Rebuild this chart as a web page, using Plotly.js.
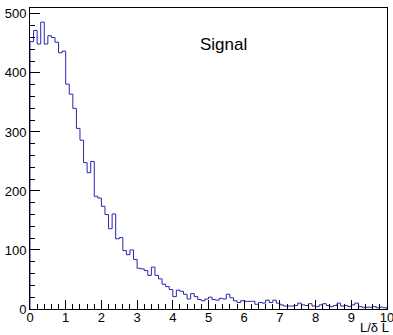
<!DOCTYPE html>
<html>
<head>
<meta charset="utf-8">
<script src="https://cdn.plot.ly/plotly-3.0.1.min.js"></script>
<style>html,body{margin:0;padding:0;background:#fff;}#chart{width:393px;height:335px;}</style>
</head>
<body>
<div id="chart"></div>
<script>
// Histogram: 100 bins of width 0.1 from 0 to 10
const binLow = 0;
const binWidth = 0.1;
const counts = [
  453, 472, 449, 486, 449, 463, 460, 452, 434, 437,
  381, 364, 340, 306, 286, 248, 231, 250, 191, 188,
  174, 160, 136, 161, 119, 121, 99, 92, 100, 84,
  69, 68, 65, 57, 71, 57, 51, 42, 38, 33,
  21, 32, 30, 25, 17, 26, 21, 16, 14, 17,
  20, 16, 15, 18, 17, 25, 19, 14, 11, 14,
  13, 13, 13, 8, 11, 10, 15, 11, 15, 10,
  7, 5, 5, 5, 6, 10, 7, 6, 9, 5,
  4, 7, 9, 6, 4, 6, 10, 5, 6, 4,
  7, 10, 4, 3, 3, 3, 4, 2, 3, 2
];
const xTickVals = [0,1,2,3,4,5,6,7,8,9,10];
const yTickVals = [0,100,200,300,400,500];
const title = "Signal";
const xTitle = "L/δ L";

// build step outline from bin edges
const xs = [binLow], ys = [0];
counts.forEach((c, i) => { xs.push(+(binLow + i * binWidth).toFixed(4)); ys.push(c); });
const xEnd = +(binLow + counts.length * binWidth).toFixed(4);
xs.push(xEnd); ys.push(counts[counts.length - 1]);
xs.push(xEnd); ys.push(0);

const font = {family: "Liberation Sans, Arial, sans-serif", size: 13, color: "#000"};

const trace = {
  x: xs, y: ys, type: "scatter", mode: "lines",
  line: {shape: "hv", color: "#2626b0", width: 1},
  hoverinfo: "skip"
};

const layout = {
  width: 393, height: 335,
  margin: {l: 30, r: 6, t: 8, b: 26},
  paper_bgcolor: "#fff", plot_bgcolor: "#fff",
  font: font,
  showlegend: false,
  xaxis: {
    range: [0, 10], tickvals: xTickVals, ticktext: xTickVals.map(String),
    ticks: "inside", ticklen: 9, tickcolor: "#000", tickwidth: 1,
    minor: {dtick: 0.2, ticks: "inside", ticklen: 5, tickcolor: "#000", showgrid: false},
    showline: true, linecolor: "#000", linewidth: 1, mirror: true,
    showgrid: false, zeroline: false, tickfont: font, fixedrange: true,
    ticklabeloverflow: "allow", automargin: false, ticklabelstandoff: -4
  },
  yaxis: {
    range: [0, 510], tickvals: yTickVals, ticktext: yTickVals.map(String),
    ticks: "inside", ticklen: 10, tickcolor: "#000", tickwidth: 1,
    minor: {dtick: 20, ticks: "inside", ticklen: 5, tickcolor: "#000", showgrid: false},
    showline: true, linecolor: "#000", linewidth: 1, mirror: true,
    showgrid: false, zeroline: false, tickfont: font, fixedrange: true,
    ticklabeloverflow: "allow", automargin: false
  },
  annotations: [
    {text: title, xref: "paper", yref: "paper", x: 0.543, y: 0.88,
     xanchor: "center", yanchor: "middle", showarrow: false,
     font: {family: "Liberation Sans, Arial, sans-serif", size: 17, color: "#000"}},
    {text: xTitle, xref: "paper", yref: "paper", x: 1.0, y: -0.0864, xshift: 3, yshift: -1,
     xanchor: "right", yanchor: "bottom", showarrow: false, borderpad: 0,
     font: {family: "Liberation Sans, Arial, sans-serif", size: 13, color: "#000"}}
  ]
};

Plotly.newPlot("chart", [trace], layout, {staticPlot: true, displayModeBar: false});
</script>
</body>
</html>
